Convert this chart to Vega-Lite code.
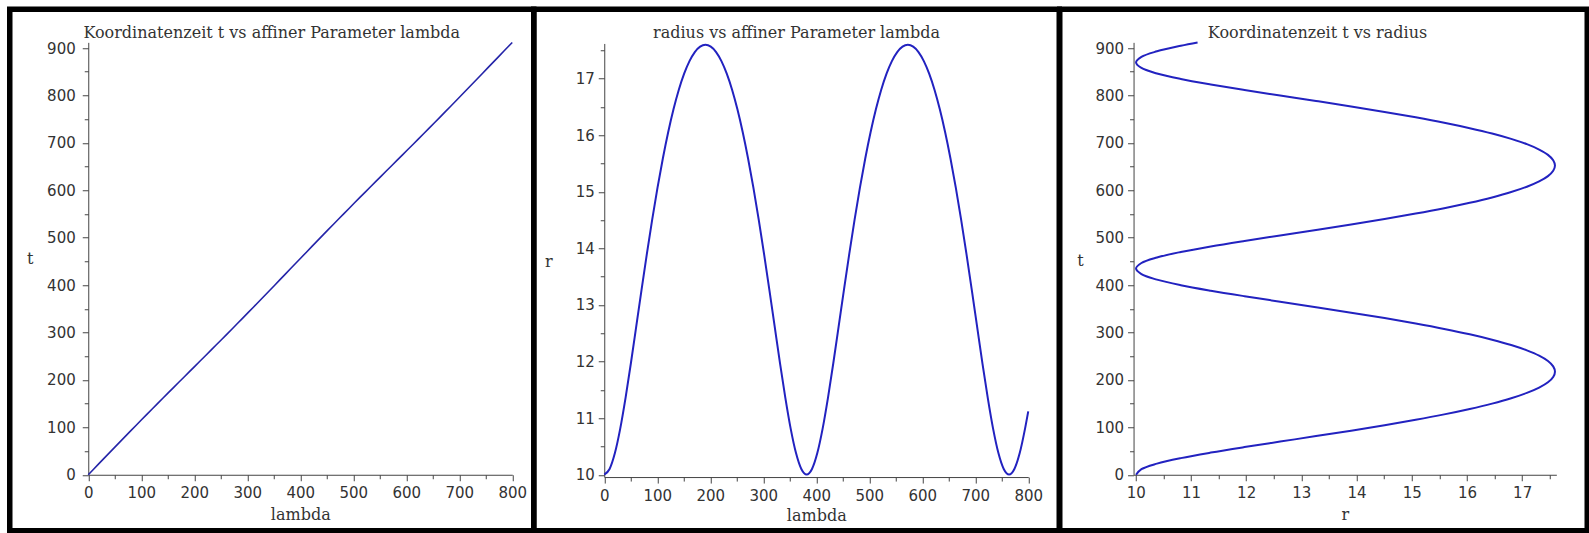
{
  "$schema": "https://vega.github.io/schema/vega-lite/v6.json",
  "autosize": {"type": "pad"},
  "padding": {"left": 6.75, "top": 6.25, "right": 0, "bottom": 0},
  "spacing": 0,
  "bounds": "flush",
  "datasets": {
    "orbit": [
      {"lambda": 0, "t": 0, "r": 10.005},
      {"lambda": 10.05, "t": 11.7, "r": 10.103},
      {"lambda": 20.1, "t": 23.4, "r": 10.384},
      {"lambda": 30.15, "t": 35.1, "r": 10.816},
      {"lambda": 40.2, "t": 46.7, "r": 11.359},
      {"lambda": 50.25, "t": 58.3, "r": 11.970},
      {"lambda": 60.3, "t": 69.9, "r": 12.616},
      {"lambda": 70.35, "t": 81.5, "r": 13.266},
      {"lambda": 80.4, "t": 93.0, "r": 13.902},
      {"lambda": 90.45, "t": 104.5, "r": 14.508},
      {"lambda": 100.5, "t": 115.9, "r": 15.072},
      {"lambda": 110.55, "t": 127.3, "r": 15.588},
      {"lambda": 120.6, "t": 138.7, "r": 16.051},
      {"lambda": 130.65, "t": 150.0, "r": 16.456},
      {"lambda": 140.7, "t": 161.3, "r": 16.802},
      {"lambda": 150.75, "t": 172.6, "r": 17.086},
      {"lambda": 160.8, "t": 183.8, "r": 17.308},
      {"lambda": 170.85, "t": 195.0, "r": 17.468},
      {"lambda": 180.9, "t": 206.2, "r": 17.563},
      {"lambda": 190.95, "t": 217.4, "r": 17.595},
      {"lambda": 201, "t": 228.6, "r": 17.563},
      {"lambda": 211.05, "t": 239.8, "r": 17.468},
      {"lambda": 221.1, "t": 251.1, "r": 17.308},
      {"lambda": 231.15, "t": 262.3, "r": 17.086},
      {"lambda": 241.2, "t": 273.6, "r": 16.802},
      {"lambda": 251.25, "t": 284.8, "r": 16.456},
      {"lambda": 261.3, "t": 296.2, "r": 16.051},
      {"lambda": 271.35, "t": 307.5, "r": 15.588},
      {"lambda": 281.4, "t": 318.9, "r": 15.072},
      {"lambda": 291.45, "t": 330.4, "r": 14.508},
      {"lambda": 301.5, "t": 341.9, "r": 13.902},
      {"lambda": 311.55, "t": 353.4, "r": 13.266},
      {"lambda": 321.6, "t": 365.0, "r": 12.616},
      {"lambda": 331.65, "t": 376.6, "r": 11.970},
      {"lambda": 341.7, "t": 388.2, "r": 11.359},
      {"lambda": 351.75, "t": 399.8, "r": 10.816},
      {"lambda": 361.8, "t": 411.5, "r": 10.384},
      {"lambda": 371.85, "t": 423.2, "r": 10.103},
      {"lambda": 381.9, "t": 434.9, "r": 10.005},
      {"lambda": 391.95, "t": 446.6, "r": 10.103},
      {"lambda": 402, "t": 458.3, "r": 10.384},
      {"lambda": 412.05, "t": 469.9, "r": 10.816},
      {"lambda": 422.1, "t": 481.6, "r": 11.359},
      {"lambda": 432.15, "t": 493.2, "r": 11.970},
      {"lambda": 442.2, "t": 504.8, "r": 12.616},
      {"lambda": 452.25, "t": 516.4, "r": 13.266},
      {"lambda": 462.3, "t": 527.9, "r": 13.902},
      {"lambda": 472.35, "t": 539.4, "r": 14.508},
      {"lambda": 482.4, "t": 550.8, "r": 15.072},
      {"lambda": 492.45, "t": 562.2, "r": 15.588},
      {"lambda": 502.5, "t": 573.6, "r": 16.051},
      {"lambda": 512.55, "t": 584.9, "r": 16.456},
      {"lambda": 522.6, "t": 596.2, "r": 16.802},
      {"lambda": 532.65, "t": 607.5, "r": 17.086},
      {"lambda": 542.7, "t": 618.7, "r": 17.308},
      {"lambda": 552.75, "t": 629.9, "r": 17.468},
      {"lambda": 562.8, "t": 641.1, "r": 17.563},
      {"lambda": 572.85, "t": 652.3, "r": 17.595},
      {"lambda": 582.9, "t": 663.5, "r": 17.563},
      {"lambda": 592.95, "t": 674.7, "r": 17.468},
      {"lambda": 603, "t": 685.9, "r": 17.308},
      {"lambda": 613.05, "t": 697.2, "r": 17.086},
      {"lambda": 623.1, "t": 708.4, "r": 16.802},
      {"lambda": 633.15, "t": 719.7, "r": 16.456},
      {"lambda": 643.2, "t": 731.0, "r": 16.051},
      {"lambda": 653.25, "t": 742.4, "r": 15.588},
      {"lambda": 663.3, "t": 753.8, "r": 15.072},
      {"lambda": 673.35, "t": 765.3, "r": 14.508},
      {"lambda": 683.4, "t": 776.7, "r": 13.902},
      {"lambda": 693.45, "t": 788.3, "r": 13.266},
      {"lambda": 703.5, "t": 799.8, "r": 12.616},
      {"lambda": 713.55, "t": 811.4, "r": 11.970},
      {"lambda": 723.6, "t": 823.1, "r": 11.359},
      {"lambda": 733.65, "t": 834.7, "r": 10.816},
      {"lambda": 743.7, "t": 846.4, "r": 10.384},
      {"lambda": 753.75, "t": 858.1, "r": 10.103},
      {"lambda": 763.8, "t": 869.7, "r": 10.005},
      {"lambda": 773.85, "t": 881.4, "r": 10.103},
      {"lambda": 783.9, "t": 893.1, "r": 10.384},
      {"lambda": 793.95, "t": 904.8, "r": 10.816},
      {"lambda": 800, "t": 911.8, "r": 11.12}
    ]
  },
  "hconcat": [
    {
      "width": 524,
      "height": 521.5,
      "title": {"text": "Koordinatenzeit t vs affiner Parameter lambda"},
      "data": {"name": "orbit"},
      "layer": [
        {
          "mark": {"type": "line", "color": "#2424a8", "strokeWidth": 1.6},
          "encoding": {
            "x": {"field": "lambda", "type": "quantitative",
              "scale": {"domain": [0, 800], "range": [78.5, 502.5], "nice": false, "zero": false},
              "axis": {"orient": "bottom", "offset": -56, "values": [0, 100, 200, 300, 400, 500, 600, 700, 800], "title": "lambda", "titleY": 40, "titleBaseline": "middle", "labelPadding": 5}},
            "y": {"field": "t", "type": "quantitative",
              "scale": {"domain": [0, 912], "range": [465.5, 33.1], "nice": false, "zero": false},
              "axis": {"orient": "left", "offset": -78.5, "values": [0, 100, 200, 300, 400, 500, 600, 700, 800, 900], "title": "t", "titleAngle": 0, "titleX": -58.6, "titleY": 249, "titleAlign": "center", "titleBaseline": "middle", "labelPadding": 7}}
          }
        },
        {
          "mark": {"type": "line", "opacity": 0},
          "encoding": {
            "x": {"field": "lambda", "type": "quantitative",
              "scale": {"domain": [0, 800], "range": [78.5, 502.5], "nice": false, "zero": false},
              "axis": {"orient": "bottom", "offset": -56, "values": [50, 150, 250, 350, 450, 550, 650, 750], "labels": false, "domain": false, "tickSize": 4, "title": null}},
            "y": {"field": "t", "type": "quantitative",
              "scale": {"domain": [0, 912], "range": [465.5, 33.1], "nice": false, "zero": false},
              "axis": {"orient": "left", "offset": -78.5, "values": [50, 150, 250, 350, 450, 550, 650, 750, 850], "labels": false, "domain": false, "tickSize": 4, "title": null}}
          }
        }
      ],
      "resolve": {"axis": {"x": "independent", "y": "independent"}}
    },
    {
      "width": 525.5,
      "height": 521.5,
      "title": {"text": "radius vs affiner Parameter lambda"},
      "data": {"name": "orbit"},
      "layer": [
        {
          "mark": {"type": "line", "color": "#2222c0", "strokeWidth": 2, "interpolate": "monotone"},
          "encoding": {
            "x": {"field": "lambda", "type": "quantitative",
              "scale": {"domain": [0, 800], "range": [70.5, 494.5], "nice": false, "zero": false},
              "axis": {"orient": "bottom", "offset": -53.7, "values": [0, 100, 200, 300, 400, 500, 600, 700, 800], "title": "lambda", "titleY": 38, "titleBaseline": "middle", "labelPadding": 5}},
            "y": {"field": "r", "type": "quantitative",
              "scale": {"domain": [9.96, 17.62], "range": [467.8, 34.2], "nice": false, "zero": false},
              "axis": {"orient": "left", "offset": -70.5, "values": [10, 11, 12, 13, 14, 15, 16, 17], "title": "r", "titleAngle": 0, "titleX": -56, "titleY": 252.5, "titleAlign": "center", "titleBaseline": "middle", "labelPadding": 4}}
          }
        },
        {
          "mark": {"type": "line", "opacity": 0},
          "encoding": {
            "x": {"field": "lambda", "type": "quantitative",
              "scale": {"domain": [0, 800], "range": [70.5, 494.5], "nice": false, "zero": false},
              "axis": {"orient": "bottom", "offset": -53.7, "values": [50, 150, 250, 350, 450, 550, 650, 750], "labels": false, "domain": false, "tickSize": 4, "title": null}},
            "y": {"field": "r", "type": "quantitative",
              "scale": {"domain": [9.96, 17.62], "range": [467.8, 34.2], "nice": false, "zero": false},
              "axis": {"orient": "left", "offset": -70.5, "values": [10.5, 11.5, 12.5, 13.5, 14.5, 15.5, 16.5, 17.5], "labels": false, "domain": false, "tickSize": 4, "title": null}}
          }
        }
      ],
      "resolve": {"axis": {"x": "independent", "y": "independent"}}
    },
    {
      "width": 527.5,
      "height": 521.5,
      "title": {"text": "Koordinatenzeit t vs radius", "dx": -6},
      "data": {"name": "orbit"},
      "layer": [
        {
          "mark": {"type": "line", "color": "#2222c0", "strokeWidth": 2, "interpolate": "catmull-rom"},
          "encoding": {
            "x": {"field": "r", "type": "quantitative",
              "scale": {"domain": [9.96, 17.62], "range": [73.8, 496.6], "nice": false, "zero": false},
              "axis": {"orient": "bottom", "offset": -56, "values": [10, 11, 12, 13, 14, 15, 16, 17], "title": "r", "titleY": 40, "titleBaseline": "middle", "labelPadding": 5}},
            "y": {"field": "t", "type": "quantitative",
              "scale": {"domain": [0, 912], "range": [465.5, 33.1], "nice": false, "zero": false},
              "axis": {"orient": "left", "offset": -73.8, "values": [0, 100, 200, 300, 400, 500, 600, 700, 800, 900], "title": "t", "titleAngle": 0, "titleX": -53.5, "titleY": 251.5, "titleAlign": "center", "titleBaseline": "middle", "labelPadding": 4}},
            "order": {"field": "lambda", "type": "quantitative"}
          }
        },
        {
          "mark": {"type": "line", "opacity": 0},
          "encoding": {
            "x": {"field": "r", "type": "quantitative",
              "scale": {"domain": [9.96, 17.62], "range": [73.8, 496.6], "nice": false, "zero": false},
              "axis": {"orient": "bottom", "offset": -56, "values": [10.5, 11.5, 12.5, 13.5, 14.5, 15.5, 16.5, 17.5], "labels": false, "domain": false, "tickSize": 4, "title": null}},
            "y": {"field": "t", "type": "quantitative",
              "scale": {"domain": [0, 912], "range": [465.5, 33.1], "nice": false, "zero": false},
              "axis": {"orient": "left", "offset": -73.8, "values": [50, 150, 250, 350, 450, 550, 650, 750, 850], "labels": false, "domain": false, "tickSize": 4, "title": null}},
            "order": {"field": "lambda", "type": "quantitative"}
          }
        }
      ],
      "resolve": {"axis": {"x": "independent", "y": "independent"}}
    }
  ],
  "config": {
    "background": "white",
    "view": {"stroke": "#000000", "strokeWidth": 5.5},
    "axis": {
      "grid": false,
      "domainColor": "#444444",
      "domainWidth": 1,
      "tickColor": "#444444",
      "tickWidth": 1,
      "tickSize": 6,
      "labelFont": "DejaVu Sans",
      "labelFontSize": 15,
      "labelColor": "#333333",
      "labelFlush": false,
      "labelOverlap": false,
      "titleFont": "DejaVu Serif",
      "titleFontSize": 16,
      "titleFontWeight": "normal",
      "titleColor": "#333333"
    },
    "title": {
      "font": "DejaVu Serif",
      "fontSize": 16,
      "fontWeight": "normal",
      "color": "#333333",
      "anchor": "middle",
      "frame": "group",
      "offset": -32,
      "baseline": "middle"
    }
  }
}
